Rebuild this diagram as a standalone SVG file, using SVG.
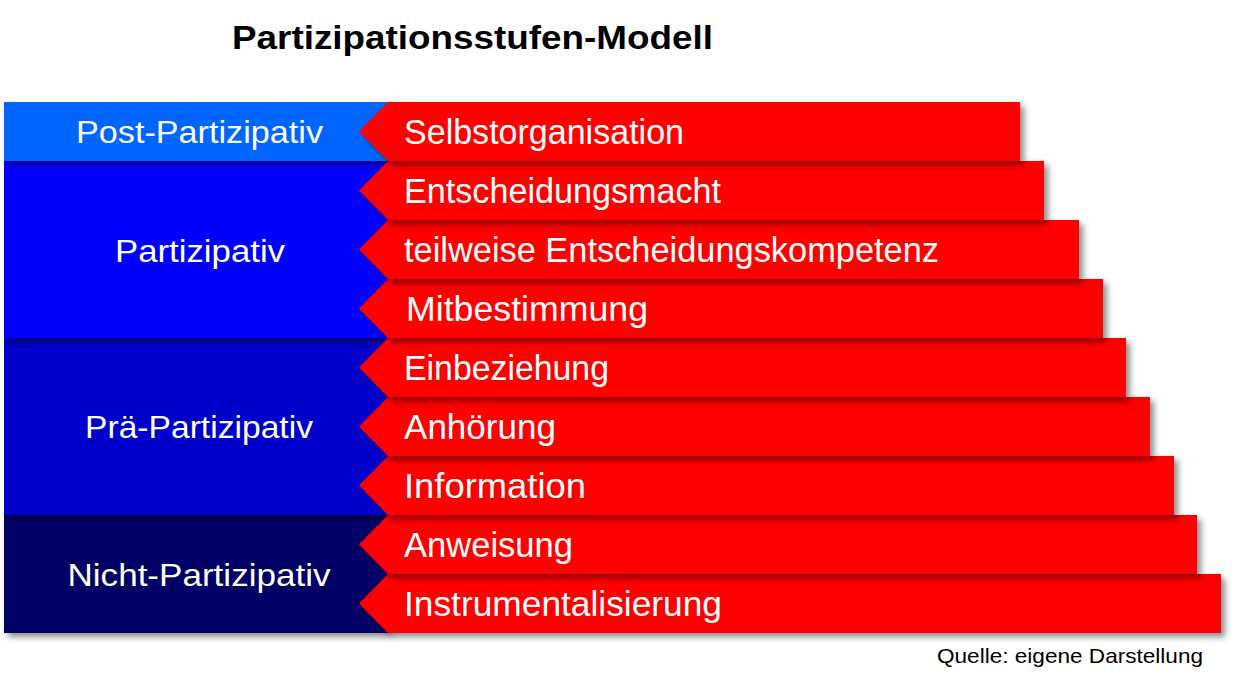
<svg xmlns="http://www.w3.org/2000/svg" width="1234" height="686" viewBox="0 0 1234 686">
<defs>
<filter id="sh" x="-5%" y="-20%" width="115%" height="160%">
<feDropShadow dx="4" dy="4" stdDeviation="3" flood-color="#000" flood-opacity="0.45"/>
</filter>
</defs>
<style>
.step{fill:#FF0000;filter:url(#sh)}
.lvl{filter:url(#sh)}
.st{font-family:"Liberation Sans",Arial,sans-serif;font-size:35px;fill:#fff}
.lt{font-family:"Liberation Sans",Arial,sans-serif;font-size:32px;fill:#fff;text-anchor:middle}
</style>
<rect width="1234" height="686" fill="#fff"/>
<text x="232" y="49" font-family="Liberation Sans, Arial, sans-serif" font-weight="bold" font-size="33" textLength="481" lengthAdjust="spacingAndGlyphs">Partizipationsstufen-Modell</text>

<g id="levels">
<g id="nicht"><rect class="lvl" x="4" y="515" width="384" height="118" fill="#000066"/><text class="lt" x="199" y="586" textLength="263" lengthAdjust="spacingAndGlyphs">Nicht-Partizipativ</text></g>
<g id="prae"><rect class="lvl" x="4" y="338" width="384" height="177" fill="#0000CC"/><text class="lt" x="199" y="438" textLength="228" lengthAdjust="spacingAndGlyphs">Prä-Partizipativ</text></g>
<g id="partizipativ"><rect class="lvl" x="4" y="161" width="384" height="177" fill="#0000FF"/><text class="lt" x="200" y="262" textLength="170" lengthAdjust="spacingAndGlyphs">Partizipativ</text></g>
<g id="post"><rect class="lvl" x="4" y="102" width="384" height="59" fill="#0066FF"/><text class="lt" x="199.5" y="143" textLength="247" lengthAdjust="spacingAndGlyphs">Post-Partizipativ</text></g>
</g>

<g id="steps">
<g id="s9"><polygon class="step" points="388,574 1221,574 1221,633 388,633 359,603.5"/><text class="st" x="404" y="616" textLength="318" lengthAdjust="spacingAndGlyphs">Instrumentalisierung</text></g>
<g id="s8"><polygon class="step" points="388,515 1197,515 1197,574 388,574 359,544.5"/><text class="st" x="404" y="557" textLength="169" lengthAdjust="spacingAndGlyphs">Anweisung</text></g>
<g id="s7"><polygon class="step" points="388,456 1174,456 1174,515 388,515 359,485.5"/><text class="st" x="404" y="498" textLength="182" lengthAdjust="spacingAndGlyphs">Information</text></g>
<g id="s6"><polygon class="step" points="388,397 1150,397 1150,456 388,456 359,426.5"/><text class="st" x="404" y="439" textLength="152" lengthAdjust="spacingAndGlyphs">Anhörung</text></g>
<g id="s5"><polygon class="step" points="388,338 1126,338 1126,397 388,397 359,367.5"/><text class="st" x="404" y="380" textLength="205" lengthAdjust="spacingAndGlyphs">Einbeziehung</text></g>
<g id="s4"><polygon class="step" points="388,279 1103,279 1103,338 388,338 359,308.5"/><text class="st" x="406" y="321" textLength="242" lengthAdjust="spacingAndGlyphs">Mitbestimmung</text></g>
<g id="s3"><polygon class="step" points="388,220 1079,220 1079,279 388,279 359,249.5"/><text class="st" x="404" y="262" textLength="535" lengthAdjust="spacingAndGlyphs">teilweise Entscheidungskompetenz</text></g>
<g id="s2"><polygon class="step" points="388,161 1044,161 1044,220 388,220 359,190.5"/><text class="st" x="404" y="203" textLength="317" lengthAdjust="spacingAndGlyphs">Entscheidungsmacht</text></g>
<g id="s1"><polygon class="step" points="388,102 1020,102 1020,161 388,161 359,131.5"/><text class="st" x="404" y="144" textLength="280" lengthAdjust="spacingAndGlyphs">Selbstorganisation</text></g>
</g>

<g id="connectors"/>

<text x="937" y="663" font-family="Liberation Sans, Arial, sans-serif" font-size="21" textLength="266" lengthAdjust="spacingAndGlyphs">Quelle: eigene Darstellung</text>
</svg>
